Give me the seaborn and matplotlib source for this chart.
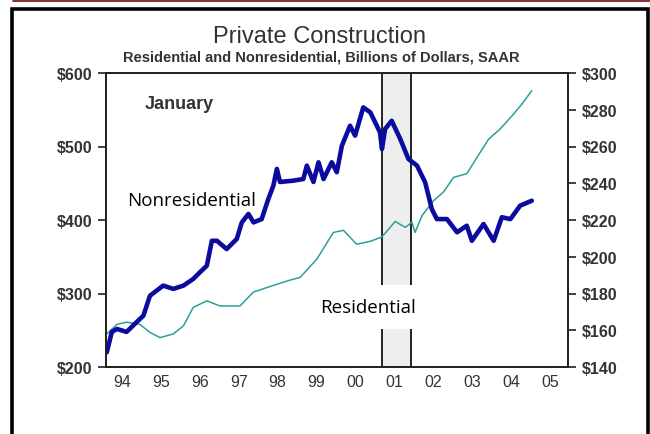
import matplotlib
matplotlib.use("Agg")
import matplotlib.pyplot as plt
import matplotlib.ticker as mticker
from matplotlib.lines import Line2D
from matplotlib.patches import Rectangle
import pandas as pd
import seaborn as sns

# Nonresidential (right axis, $bn)
nonres_year = [1994.11, 1994.24, 1994.37, 1994.62, 1994.88, 1995.05, 1995.22, 1995.56,
               1995.82, 1996.08, 1996.33, 1996.51, 1996.68, 1996.81, 1996.94, 1997.19,
               1997.45, 1997.58, 1997.75, 1997.88, 1998.09, 1998.26, 1998.39, 1998.48,
               1998.56, 1998.90, 1999.16, 1999.25, 1999.42, 1999.55, 1999.68, 1999.89,
               2000.02, 2000.15, 2000.36, 2000.49, 2000.70, 2000.88, 2001.13, 2001.18,
               2001.26, 2001.43, 2001.65, 2001.86, 2002.08, 2002.29, 2002.46, 2002.59,
               2002.85, 2003.11, 2003.36, 2003.49, 2003.79, 2004.05, 2004.26, 2004.48,
               2004.73, 2005.03]
nonres_val = [148.0, 159.1, 160.7, 159.1, 164.5, 167.9, 178.8, 184.3,
              182.5, 184.3, 187.9, 191.7, 195.1, 208.7, 208.7, 204.2,
              209.7, 218.7, 223.3, 218.7, 220.5, 231.4, 238.7, 247.8,
              240.7, 241.4, 242.3, 249.6, 240.7, 251.4, 242.3, 251.4,
              246.0, 260.4, 271.3, 265.9, 281.3, 278.6, 267.7, 258.6,
              269.5, 274.0, 264.1, 253.2, 249.6, 240.5, 226.0, 220.5,
              220.5, 213.3, 216.9, 208.7, 217.8, 208.7, 221.5, 220.5,
              227.8, 230.5]

# Residential (left axis, $bn)
res_year = [1994.11, 1994.37, 1994.62, 1994.96, 1995.22, 1995.48, 1995.82, 1996.08,
            1996.33, 1996.68, 1997.02, 1997.53, 1997.88, 1998.39, 1998.74, 1999.08,
            1999.51, 1999.93, 2000.19, 2000.53, 2000.88, 2001.18, 2001.52, 2001.78,
            2001.95, 2002.03, 2002.21, 2002.50, 2002.76, 2003.02, 2003.36, 2003.62,
            2003.92, 2004.22, 2004.56, 2004.78, 2005.03]
res_val = [245, 258, 261, 258, 247, 240, 245, 256,
           281, 290, 283, 283, 302, 311, 317, 322,
           347, 383, 386, 367, 371, 377, 398, 390,
           397, 383, 406, 426, 438, 458, 463, 485,
           510, 524, 544, 558, 576]

recession = [2001.17, 2001.92]
year_labels = ["94", "95", "96", "97", "98", "99", "00", "01", "02", "03", "04", "05"]
left_ticks = [200, 300, 400, 500, 600]
right_ticks = [140, 160, 180, 200, 220, 240, 260, 280, 300]

sns.set_style("white")
plt.rcParams["font.family"] = ["Liberation Sans", "DejaVu Sans"]

nonres = pd.DataFrame({"year": nonres_year, "value": nonres_val})
res = pd.DataFrame({"year": res_year, "value": res_val})

fig = plt.figure(figsize=(6.5, 4.35), dpi=100)
ax = fig.add_axes([106 / 650, 1 - 368 / 435, 462 / 650, 294 / 435])
ax2 = ax.twinx()

ax.axvspan(recession[0], recession[1], facecolor="#eeeeee", edgecolor="black", lw=1.2, zorder=0)

sns.lineplot(data=res, x="year", y="value", ax=ax, color="#2aa09c", lw=1.1)
sns.lineplot(data=nonres, x="year", y="value", ax=ax2, color="#0b0ba0", lw=3.3)

ax.set_xlim(1994.09, 2005.96)
ax.set_ylim(200, 600)
ax2.set_ylim(140, 300)

ax.set_yticks(left_ticks)
ax.yaxis.set_major_formatter(mticker.FuncFormatter(lambda v, p: f"${v:.0f}"))
ax2.set_yticks(right_ticks)
ax2.yaxis.set_major_formatter(mticker.FuncFormatter(lambda v, p: f"${v:.0f}"))

ax.set_xticks([1994.5 + i for i in range(len(year_labels))])
ax.set_xticklabels(year_labels)
ax.xaxis.set_minor_locator(mticker.MultipleLocator(1 / 12))

for a in (ax, ax2):
    a.set_xlabel("")
    a.set_ylabel("")
    for s in a.spines.values():
        s.set_color("#222222")
        s.set_linewidth(1.3)

ax.tick_params(axis="y", direction="out", length=6, width=1.2, color="#222222", pad=4,
               labelsize=11.5, labelcolor="#333333")
ax2.tick_params(axis="y", direction="out", length=6, width=1.2, color="#222222", pad=4,
                labelsize=11.5, labelcolor="#333333")
ax.tick_params(axis="x", which="major", length=0, pad=5, labelsize=11.5, labelcolor="#333333")
ax.tick_params(axis="x", which="minor", direction="in", length=2.5, width=0.8, color="#222222")
for lab in ax.get_yticklabels() + ax2.get_yticklabels():
    lab.set_fontweight("bold")

# annotations
ax2.text(0.084, 0.895, "January", transform=ax2.transAxes, fontsize=13, fontweight="bold",
         color="#333333", va="center")
ax2.text(0.045, 0.568, "Nonresidential", transform=ax2.transAxes, fontsize=13.5,
         family="Open Sans", color="black", va="center")
ax2.text(0.463, 0.204, "Residential", transform=ax2.transAxes, fontsize=13.5,
         family="Open Sans", color="black", va="center", zorder=10,
         bbox=dict(facecolor="white", edgecolor="none", pad=9))

fig.text(0.492, 1 - 37 / 435, "Private Construction", ha="center", va="center",
         fontsize=17, color="#333333")
fig.text(0.494, 1 - 57 / 435, "Residential and Nonresidential, Billions of Dollars, SAAR",
         ha="center", va="center", fontsize=10.5, fontweight="bold", color="#333333")

# outer frame
fig.add_artist(Line2D([13 / 650, 1], [1 - 2 / 435, 1 - 2 / 435], transform=fig.transFigure,
                      color="#6b0e0e", lw=1.2))
fig.add_artist(Rectangle((11.5 / 650, -0.05), (648 - 11.5) / 650, 1.05 - 10 / 435,
                         transform=fig.transFigure, fill=False, edgecolor="black", lw=2.6))

fig.savefig("out.png", dpi=100)
